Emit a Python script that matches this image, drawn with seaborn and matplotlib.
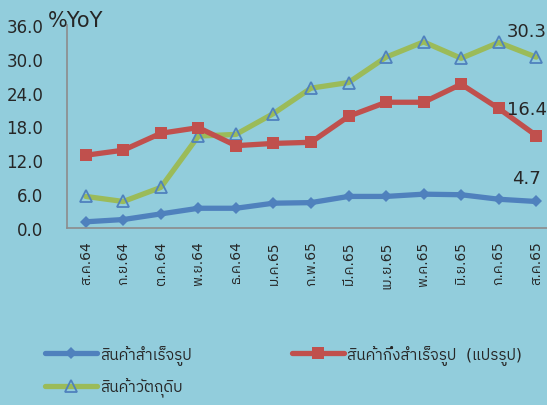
import matplotlib
matplotlib.use("Agg")
import matplotlib.pyplot as plt
from matplotlib import font_manager
from matplotlib.ft2font import FT2Font
import seaborn as sns
import pandas as pd

# months (Thai abbreviations)
months = ["ส.ค.64", "ก.ย.64", "ต.ค.64", "พ.ย.64", "ธ.ค.64", "ม.ค.65", "ก.พ.65",
          "มี.ค.65", "เม.ย.65", "พ.ค.65", "มิ.ย.65", "ก.ค.65", "ส.ค.65"]

finished = [1.1, 1.5, 2.5, 3.5, 3.5, 4.4, 4.5, 5.6, 5.6, 6.0, 5.9, 5.1, 4.7]
semi = [12.9, 13.8, 16.8, 17.8, 14.6, 15.0, 15.2, 19.8, 22.3, 22.3, 25.5, 21.2, 16.4]
raw = [5.6, 4.7, 7.2, 16.3, 16.6, 20.3, 24.8, 25.8, 30.3, 33.0, 30.1, 32.9, 30.3]

names = ["สินค้าสำเร็จรูป", "สินค้ากึ่งสำเร็จรูป  (แปรรูป)", "สินค้าวัตถุดิบ"]
yticks = [0, 6, 12, 18, 24, 30, 36]

# find a font that can draw Thai
thai_font = None
for f in font_manager.fontManager.ttflist:
    try:
        if FT2Font(f.fname).get_char_index(0x0E2A):
            thai_font = f.name
            if "Thai" in f.name or "Tahoma" in f.name:
                break
    except Exception:
        pass

sns.set_style("white")
families = ["DejaVu Sans"]
if thai_font:
    families = ["DejaVu Sans", thai_font]
plt.rcParams["font.family"] = families

bg = "#92CDDC"
fig = plt.figure(figsize=(5.47, 4.06), dpi=100, facecolor=bg)
ax = fig.add_axes([67 / 547, 1 - 229 / 406, 488 / 547, 203 / 406])
ax.set_facecolor(bg)

x = list(range(len(months)))
df = pd.DataFrame({"x": x, "finished": finished, "semi": semi, "raw": raw})

sns.lineplot(data=df, x="x", y="raw", ax=ax, color="#9BBB59", lw=3.8,
             marker="^", markersize=8, markerfacecolor="none",
             markeredgecolor="#4F81BD", markeredgewidth=1.3, label=names[2])
sns.lineplot(data=df, x="x", y="semi", ax=ax, color="#C0504D", lw=3.8,
             marker="s", markersize=8.5, markeredgewidth=0, label=names[1])
sns.lineplot(data=df, x="x", y="finished", ax=ax, color="#4F81BD", lw=3.8,
             marker="D", markersize=6, markeredgewidth=0, label=names[0])

ax.set_xlim(-0.5, len(months) - 0.5)
ax.set_ylim(0, 36)
ax.set_yticks(yticks)
ax.set_yticklabels([f"{v:.1f}" for v in yticks], fontsize=12)
ax.set_xticks(x)
ax.set_xticklabels(months, rotation=90, fontsize=10)
ax.tick_params(axis="y", length=0, pad=17)
ax.tick_params(axis="x", length=0, pad=9)
ax.set_xlabel("")
ax.set_ylabel("")
for s in ["top", "right"]:
    ax.spines[s].set_visible(False)
for s in ["left", "bottom"]:
    ax.spines[s].set_color("#8C8C8C")
    ax.spines[s].set_linewidth(1.2)

# end labels
for series, dy in zip([raw, semi, finished], [19, 19, 17]):
    ax.annotate(f"{series[-1]:.1f}", (x[-1], series[-1]), xytext=(-7, dy),
                textcoords="offset points", ha="center", va="center", fontsize=13)

fig.text(48 / 547, 1 - 21 / 406, "%YoY", fontsize=15, va="center", ha="left")

handles, labels = ax.get_legend_handles_labels()
order = [2, 0, 1]
ax.get_legend().remove()
fig.legend([handles[i] for i in order], [labels[i] for i in order], ncol=2,
           loc="upper left", bbox_to_anchor=(31 / 547, 1 - 332 / 406),
           frameon=False, fontsize=11, handlelength=3.4, handletextpad=0.2,
           columnspacing=6.6, labelspacing=0.85)

fig.savefig("out.png", dpi=100, facecolor=bg)
